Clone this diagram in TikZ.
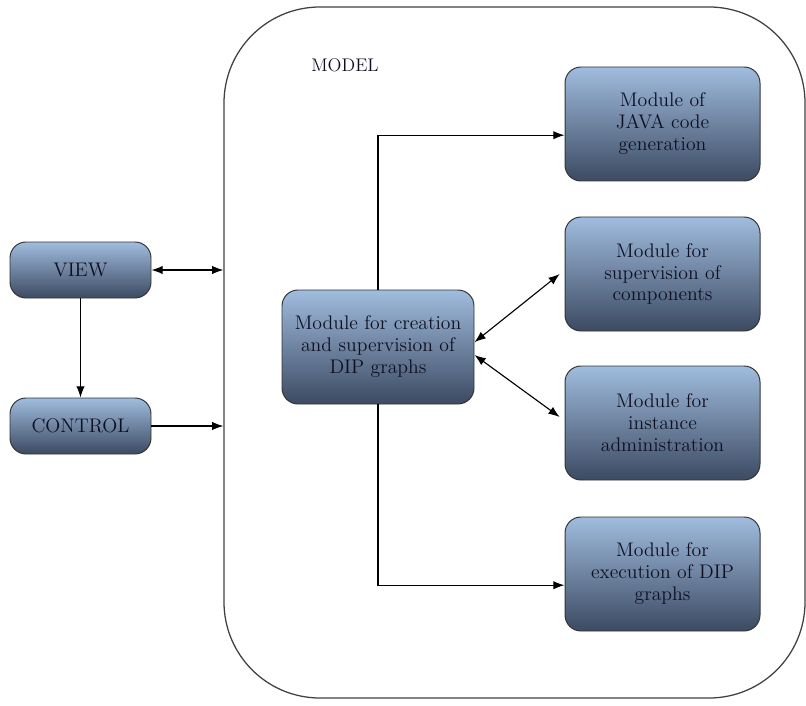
\documentclass[tikz,border=0pt]{standalone}
\usetikzlibrary{arrows.meta}

\definecolor{boxtop}{RGB}{160,188,222}
\definecolor{boxbot}{RGB}{60,74,98}
\definecolor{boxtext}{RGB}{14,16,34}

\begin{document}
\begin{tikzpicture}[
	module/.style = {draw = black!80, line width = 0.7pt, rounded corners = 0.4cm, top color = boxtop, bottom color = boxbot, text = boxtext, align = center, inner sep = 0pt, minimum width = 4.875cm, minimum height = 2.85cm, font = \fontsize{14}{15.6}\selectfont},
	small/.style = {module, minimum width = 3.525cm, minimum height = 1.4cm}]
	\useasboundingbox (0,0) rectangle (20.15,17.625);
	% the model container
	\node (model) at (12.8625,8.8125) [draw = black!75, line width = 0.9pt, rounded corners = 2.4cm, inner sep = 0pt, minimum width = 14.525cm, minimum height = 17.275cm] {};
	\node (modeltitle) at (8.625,16.0) [text = boxtext, font = \fontsize{13}{15}\selectfont] {MODEL};
	% view and control
	\node (view) at (2.0125,10.875) [small] {VIEW};
	\node (control) at (2.0125,6.975) [small] {CONTROL};
	% modules
	\node (graphs) at (9.45,8.95) [module, minimum width = 4.8cm] {Module for creation\\and supervision of\\DIP graphs};
	\node (java) at (16.5625,14.525) [module] {Module of\\JAVA code\\generation};
	\node (comp) at (16.5625,10.775) [module] {Module for\\supervision of\\components};
	\node (inst) at (16.5625,7.05) [module] {Module for\\instance\\administration};
	\node (exec) at (16.5625,3.275) [module] {Module for\\execution of DIP\\graphs};
	% connectors
	\draw[<->, > = {Latex[length = 8pt, width = 6pt]}, thick] (view.east) -- (view.east -| model.west);
	\draw[->, > = {Latex[length = 8pt, width = 6pt]}, thick] (control.east) -- (control.east -| model.west);
	\draw[->, > = {Latex[length = 8pt, width = 6pt]}, thick] (view.south) -- (control.north);
	\draw[->, > = {Latex[length = 8pt, width = 6pt]}, thick] (graphs.north) |- ([yshift = -0.28cm]java.west);
	\draw[->, > = {Latex[length = 8pt, width = 6pt]}, thick] (graphs.south) |- ([yshift = -0.28cm]exec.west);
	\draw[<->, > = {Latex[length = 8pt, width = 6pt]}, thick] ([yshift = 0.12cm]graphs.east) -- ([xshift = -0.12cm]comp.west);
	\draw[<->, > = {Latex[length = 8pt, width = 6pt]}, thick] ([yshift = -0.2cm]graphs.east) -- ([xshift = -0.12cm, yshift = 0.15cm]inst.west);
\end{tikzpicture}
\end{document}
